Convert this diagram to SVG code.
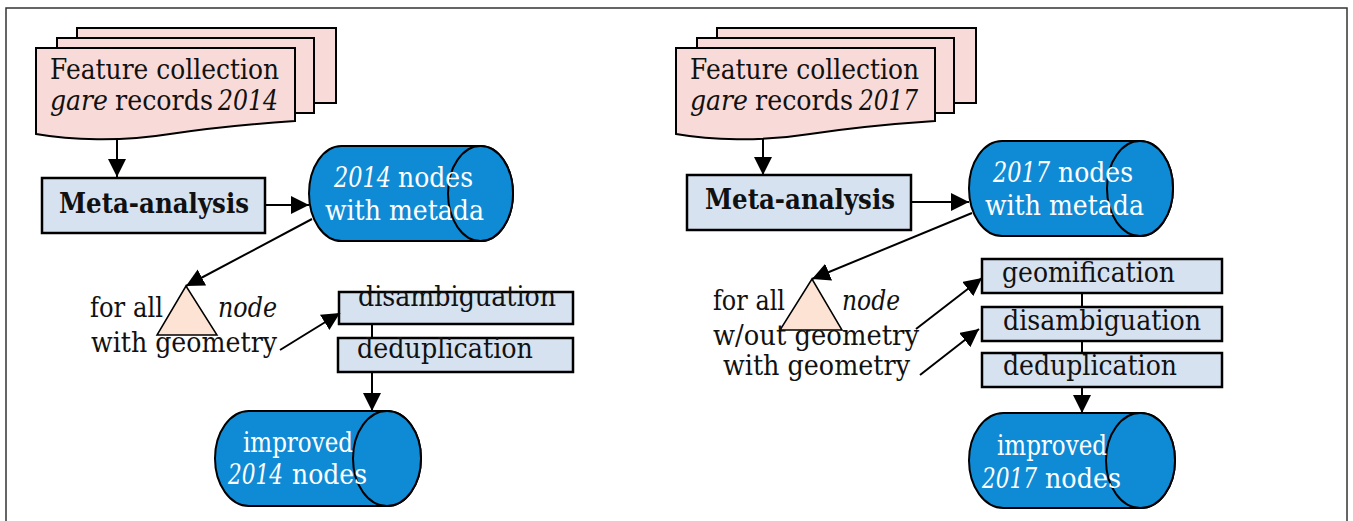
<svg xmlns="http://www.w3.org/2000/svg" width="1353" height="521" viewBox="0 0 1353 521">
<style>
text{font-family:"DejaVu Serif","Liberation Serif",serif;font-size:27px;fill:#111}
.w{fill:#fff}
.b{font-weight:bold;font-size:28px}
.i{font-style:italic}
.doc{fill:#f8dbd8;stroke:#000;stroke-width:2}
.box{fill:#d6e2f0;stroke:#000;stroke-width:2.5}
.cyl{fill:#0f8bd6;stroke:#000;stroke-width:2}
.tri{fill:#fde3d3;stroke:#000;stroke-width:1.5}
.con{fill:none;stroke:#000;stroke-width:2}
</style>
<defs>
<marker id="ah" markerUnits="userSpaceOnUse" markerWidth="19" markerHeight="19" refX="18" refY="9" orient="auto">
<path d="M0,0 L18,9 L0,18 Z" fill="#000"/>
</marker>
</defs>
<rect x="6" y="8" width="1341" height="530" fill="#fff" stroke="#333" stroke-width="1.5"/>

<g id="doc2014">
<rect class="doc" x="77" y="28" width="259" height="75"/>
<rect class="doc" x="57" y="38" width="257" height="75"/>
<path class="doc" d="M36,48 H295 V121 C250,124 210,128 170,134 C120,142 70,140 36,134 Z"/>
<text x="50" y="79" textLength="229" lengthAdjust="spacingAndGlyphs">Feature collection</text>
<text class="i" x="50" y="110" textLength="58" lengthAdjust="spacingAndGlyphs">gare</text>
<text x="115" y="110" textLength="98" lengthAdjust="spacingAndGlyphs">records</text>
<text class="i" x="218" y="110" textLength="60" lengthAdjust="spacingAndGlyphs">2014</text>
</g>
<g id="meta2014">
<rect class="box" x="42" y="178" width="223" height="55"/>
<text class="b" x="59" y="213" textLength="190" lengthAdjust="spacingAndGlyphs">Meta-analysis</text>
</g>
<g id="nodes2014">
<path class="cyl" d="M341.5,146 H480.5 A32.5,47.5 0 0 1 480.5,241 H341.5 A32.5,47.5 0 0 1 341.5,146 Z"/>
<ellipse class="cyl" cx="480.5" cy="193.5" rx="32.5" ry="47.5"/>
<text class="w i" x="334" y="187" textLength="57" lengthAdjust="spacingAndGlyphs">2014</text>
<text class="w" x="398" y="187" textLength="75" lengthAdjust="spacingAndGlyphs">nodes</text>
<text class="w" x="325" y="220" textLength="159" lengthAdjust="spacingAndGlyphs">with metada</text>
</g>
<g id="forall2014">
<polygon class="tri" points="186,286 157,335 217,335"/>
<text x="90" y="317" textLength="73" lengthAdjust="spacingAndGlyphs">for all</text>
<text class="i" x="218" y="317" textLength="59" lengthAdjust="spacingAndGlyphs">node</text>
<text x="91" y="352" textLength="186" lengthAdjust="spacingAndGlyphs">with geometry</text>
</g>
<g id="disamb2014">
<rect class="box" x="339" y="292" width="234" height="32"/>
<text x="358" y="306" textLength="198" lengthAdjust="spacingAndGlyphs">disambiguation</text>
</g>
<g id="dedup2014">
<rect class="box" x="338" y="338" width="235" height="34"/>
<text x="357" y="358" textLength="176" lengthAdjust="spacingAndGlyphs">deduplication</text>
</g>
<g id="improved2014">
<path class="cyl" d="M249,411 H387 A34,47.5 0 0 1 387,506 H249 A34,47.5 0 0 1 249,411 Z"/>
<ellipse class="cyl" cx="387" cy="458.5" rx="34" ry="47.5"/>
<text class="w" x="243" y="452" textLength="110" lengthAdjust="spacingAndGlyphs">improved</text>
<text class="w i" x="228" y="484" textLength="55" lengthAdjust="spacingAndGlyphs">2014</text>
<text class="w" x="292" y="484" textLength="75" lengthAdjust="spacingAndGlyphs">nodes</text>
</g>

<g id="doc2017">
<rect class="doc" x="717" y="28" width="259" height="75"/>
<rect class="doc" x="697" y="38" width="257" height="75"/>
<path class="doc" d="M676,48 H935 V121 C890,124 850,128 810,134 C760,142 710,140 676,134 Z"/>
<text x="690" y="79" textLength="229" lengthAdjust="spacingAndGlyphs">Feature collection</text>
<text class="i" x="690" y="110" textLength="58" lengthAdjust="spacingAndGlyphs">gare</text>
<text x="755" y="110" textLength="98" lengthAdjust="spacingAndGlyphs">records</text>
<text class="i" x="859" y="110" textLength="59" lengthAdjust="spacingAndGlyphs">2017</text>
</g>
<g id="meta2017">
<rect class="box" x="687" y="175" width="224" height="55"/>
<text class="b" x="705" y="209" textLength="190" lengthAdjust="spacingAndGlyphs">Meta-analysis</text>
</g>
<g id="nodes2017">
<path class="cyl" d="M1002,141 H1140 A33,47.5 0 0 1 1140,236 H1002 A33,47.5 0 0 1 1002,141 Z"/>
<ellipse class="cyl" cx="1140" cy="188.5" rx="33" ry="47.5"/>
<text class="w i" x="993" y="182" textLength="57" lengthAdjust="spacingAndGlyphs">2017</text>
<text class="w" x="1058" y="182" textLength="75" lengthAdjust="spacingAndGlyphs">nodes</text>
<text class="w" x="985" y="215" textLength="159" lengthAdjust="spacingAndGlyphs">with metada</text>
</g>
<g id="forall2017">
<polygon class="tri" points="812,279 780,330 842,330"/>
<text x="713" y="310" textLength="72" lengthAdjust="spacingAndGlyphs">for all</text>
<text class="i" x="842" y="310" textLength="58" lengthAdjust="spacingAndGlyphs">node</text>
<text x="713" y="345" textLength="206" lengthAdjust="spacingAndGlyphs">w/out geometry</text>
<text x="723" y="375" textLength="187" lengthAdjust="spacingAndGlyphs">with geometry</text>
</g>
<g id="geom2017">
<rect class="box" x="982" y="259" width="240" height="34"/>
<text x="1002" y="282" textLength="173" lengthAdjust="spacingAndGlyphs">geomification</text>
</g>
<g id="disamb2017">
<rect class="box" x="982" y="307" width="240" height="34"/>
<text x="1003" y="330" textLength="198" lengthAdjust="spacingAndGlyphs">disambiguation</text>
</g>
<g id="dedup2017">
<rect class="box" x="982" y="353" width="240" height="34"/>
<text x="1003" y="375" textLength="174" lengthAdjust="spacingAndGlyphs">deduplication</text>
</g>
<g id="improved2017">
<path class="cyl" d="M1003.5,413 H1140.5 A34.5,47.5 0 0 1 1140.5,508 H1003.5 A34.5,47.5 0 0 1 1003.5,413 Z"/>
<ellipse class="cyl" cx="1140.5" cy="460.5" rx="34.5" ry="47.5"/>
<text class="w" x="997" y="455" textLength="110" lengthAdjust="spacingAndGlyphs">improved</text>
<text class="w i" x="982" y="488" textLength="55" lengthAdjust="spacingAndGlyphs">2017</text>
<text class="w" x="1045" y="488" textLength="76" lengthAdjust="spacingAndGlyphs">nodes</text>
</g>

<g id="connectors">
<path class="con" d="M117,138 V177" marker-end="url(#ah)"/>
<path class="con" d="M265,205 H309" marker-end="url(#ah)"/>
<path class="con" d="M312,219 L186,286" marker-end="url(#ah)"/>
<path class="con" d="M280,350 L340,313" marker-end="url(#ah)"/>
<path class="con" d="M372,324 V338"/>
<path class="con" d="M372,372 V411" marker-end="url(#ah)"/>
<path class="con" d="M763,138 V175" marker-end="url(#ah)"/>
<path class="con" d="M911,202 H969" marker-end="url(#ah)"/>
<path class="con" d="M972,213 L812,279" marker-end="url(#ah)"/>
<path class="con" d="M916,329 L982,278" marker-end="url(#ah)"/>
<path class="con" d="M920,375 L979,329" marker-end="url(#ah)"/>
<path class="con" d="M1082,293 V307 M1082,341 V353"/>
<path class="con" d="M1082,387 V413" marker-end="url(#ah)"/>
</g>
</svg>
